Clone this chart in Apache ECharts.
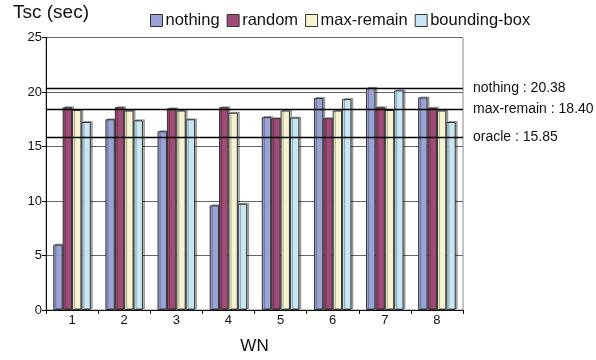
<!DOCTYPE html>
<html><head><meta charset="utf-8">
<script src="https://cdn.jsdelivr.net/npm/echarts@6/dist/echarts.min.js"></script>
<style>html,body{margin:0;padding:0;background:#fff}#c{width:596px;height:360px}</style>
</head><body><div id="c"></div>
<script>
const categories = ['1','2','3','4','5','6','7','8'];
const seriesNames = ['nothing','random','max-remain','bounding-box'];
const nothing     = [6.0, 17.5, 16.4, 9.6, 17.7, 19.45, 20.38, 19.5];
const random      = [18.6, 18.6, 18.5, 18.6, 17.6, 17.6, 18.6, 18.55];
const maxRemain   = [18.35, 18.3, 18.3, 18.1, 18.3, 18.3, 18.35, 18.3];
const boundingBox = [17.25, 17.4, 17.5, 9.75, 17.65, 19.35, 20.15, 17.25];
const refNames  = ['nothing', 'max-remain', 'oracle'];
const refValues = [20.38, 18.40, 15.85];
const yTicks = [0, 5, 10, 15, 20, 25];

const colors = ['#9aa3d6', '#9e4b76', '#f5f3d2', '#c8e7f4'];
const FONT = 'Liberation Sans, Arial, sans-serif';
const chart = echarts.init(document.getElementById('c'), null, {renderer: 'canvas'});
const allData = [nothing, random, maxRemain, boundingBox];

const series = seriesNames.map((n, i) => ({
  name: n, type: 'bar', data: allData[i],
  barGap: '0%', barCategoryGap: '28%',
  itemStyle: {color: colors[i], borderColor: '#333', borderWidth: 1,
    shadowColor: 'rgba(0,0,0,0.3)', shadowOffsetX: 2, shadowOffsetY: -1, shadowBlur: 0},
  emphasis: {disabled: true}
}));
series[3].markLine = {
  silent: true, symbol: 'none', animation: false,
  lineStyle: {color: '#000', width: 1.3, type: 'solid'},
  label: {show: true, position: 'end', distance: 10, color: '#111', fontFamily: FONT, fontSize: 14,
    formatter: p => p.name + ' : ' + p.value.toFixed(2)},
  data: refNames.map((n, i) => ({name: n, yAxis: refValues[i]}))
};

chart.setOption({
  animation: false,
  textStyle: {fontFamily: FONT},
  grid: {left: 46, right: 133, top: 37.5, bottom: 50, show: true, borderColor: '#888', borderWidth: 1, backgroundColor: 'transparent'},
  legend: {
    data: seriesNames, top: 7, left: 145, itemWidth: 12, itemHeight: 12, itemGap: 7,
    icon: 'rect', textStyle: {fontSize: 16.5, color: '#111', fontFamily: FONT, padding: [0,0,0,-2]},
    itemStyle: {borderColor: '#333', borderWidth: 1, shadowBlur: 0, shadowOffsetX: 0, shadowOffsetY: 0}
  },
  xAxis: {
    type: 'category', data: categories,
    name: 'WN', nameLocation: 'middle', nameGap: 28,
    nameTextStyle: {fontSize: 17, color: '#111', fontFamily: FONT},
    axisLine: {lineStyle: {color: '#111', width: 1}},
    axisTick: {show: true, length: 4, lineStyle: {color: '#111'}},
    axisLabel: {fontSize: 13, color: '#111', margin: 4}
  },
  yAxis: {
    type: 'value', min: yTicks[0], max: yTicks[yTicks.length-1], interval: 5,
    name: 'Tsc (sec)', nameLocation: 'end', nameGap: 15,
    nameTextStyle: {fontSize: 19, color: '#111', align: 'left', padding: [0,0,0,-33], fontFamily: FONT},
    axisLine: {show: true, lineStyle: {color: '#111', width: 1}},
    axisTick: {show: true, length: 4, lineStyle: {color: '#111'}},
    axisLabel: {fontSize: 13, color: '#111', margin: 4},
    splitLine: {show: true, lineStyle: {color: '#666', width: 1}}
  },
  series: series
});
</script></body></html>
